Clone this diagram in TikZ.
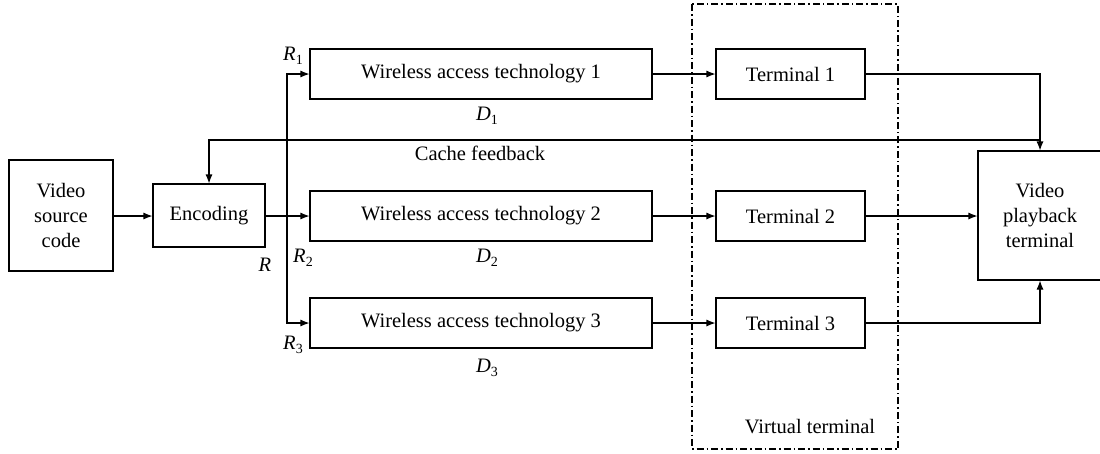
\documentclass[tikz,border=0pt]{standalone}
\usepackage{fontspec}
\setmainfont{Liberation Serif}
\usetikzlibrary{arrows.meta}

\newcommand{\sym}[2]{\textit{#1}\raisebox{-0.45ex}{\fontsize{14}{14}\selectfont #2}}

\tikzset{
  box/.style={draw, line width=1.1pt, rectangle, inner sep=0pt, align=center},
  arr/.style={line width=1.1pt, -{Latex[length=9pt,width=7pt]}},
  ln/.style={line width=1.1pt},
  lbl/.style={inner sep=0pt, anchor=center},
  vt/.style={draw, line width=1.1pt, dash pattern=on 7pt off 3pt on 1.5pt off 3pt}
}

\begin{document}
\begin{tikzpicture}[x=1pt, y=-1pt, font=\fontsize{20.5}{25}\selectfont]
\useasboundingbox (0,0) rectangle (1100,453);
\clip (0,0) rectangle (1100,453);

% virtual terminal frame
\draw[vt] (692,4) rectangle (898,449);
\node[lbl] (vtl) at (810,427) {Virtual terminal};

% blocks
\node[box, minimum width=104pt, minimum height=111pt] (src) at (61,215.5) {Video\\source\\code};
\node[box, minimum width=112pt, minimum height=63pt] (enc) at (209,215.5) {Encoding};

\node[box, minimum width=342pt, minimum height=50pt] (w1) at (481,74) {Wireless access technology 1};
\node[box, minimum width=342pt, minimum height=50pt] (w2) at (481,216) {Wireless access technology 2};
\node[box, minimum width=342pt, minimum height=50pt] (w3) at (481,323) {Wireless access technology 3};

\node[box, minimum width=149pt, minimum height=50pt] (t1) at (790.5,74) {Terminal 1};
\node[box, minimum width=149pt, minimum height=50pt] (t2) at (790.5,216) {Terminal 2};
\node[box, minimum width=149pt, minimum height=50pt] (t3) at (790.5,323) {Terminal 3};

\node[box, minimum width=124pt, minimum height=129pt] (play) at (1040,215.5) {Video\\playback\\terminal};

% splitting bus after the encoder
\coordinate (bus) at (287,216);
\coordinate (fb) at (1040,140);

% connectors
\draw[arr] (src.east |- 0,216) -- (enc.west |- 0,216);
\draw[arr] (enc.east |- w2.west) -- (w2.west);
\draw[arr] (bus) |- (w1.west);
\draw[arr] (bus) |- (w3.west);

\draw[arr] (w1.east) -- (t1.west);
\draw[arr] (w2.east) -- (t2.west);
\draw[arr] (w3.east) -- (t3.west);

\draw[arr] (t1.east) -| (play.north);
\draw[arr] (t2.east) -- (play.west |- t2.east);
\draw[arr] (t3.east) -| (play.south);

% cache feedback loop
\draw[arr] (fb) -| (enc.north);
\node[lbl] (cfl) at (480,153) {Cache feedback};

% rate and delay labels
\node[lbl] (r1) at (293,56) {\sym{R}{1}};
\node[lbl] (r2) at (303,258) {\sym{R}{2}};
\node[lbl] (r3) at (293,345) {\sym{R}{3}};
\node[lbl] (r) at (265,265) {\textit{R}};
\node[lbl] (d1) at (487,116) {\sym{D}{1}};
\node[lbl] (d2) at (487,258) {\sym{D}{2}};
\node[lbl] (d3) at (487,368) {\sym{D}{3}};
\end{tikzpicture}
\end{document}
